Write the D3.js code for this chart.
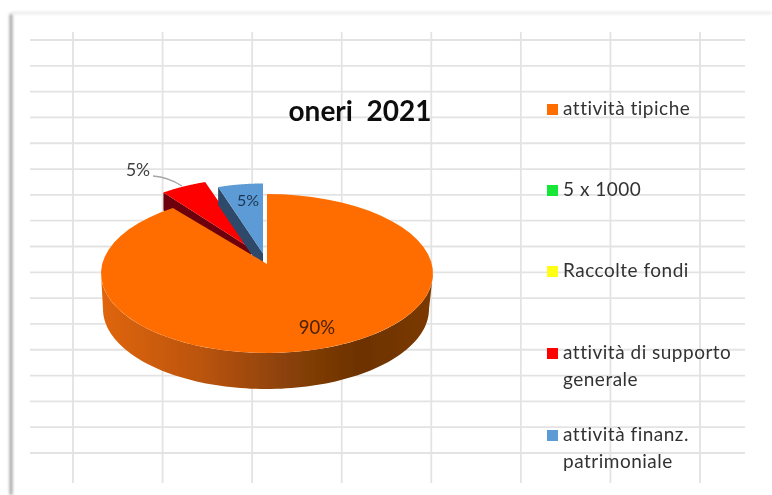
<!DOCTYPE html>
<html>
<head>
<meta charset="utf-8">
<script src="https://cdn.jsdelivr.net/npm/d3@7"></script>
<style>
	html, body { margin: 0; padding: 0; background: #fff; }
	text { font-family: Lato, "Open Sans", sans-serif; font-variant-ligatures: none; }
</style>
</head>
<body>
<div id="chart"></div>
<script>
var categories = ["attività tipiche", "5 x 1000", "Raccolte fondi", "attività di supporto generale", "attività finanz. patrimoniale"];
var values = [90.4, 0, 0, 4.8, 4.8];
var colors = ["#ff6d05", "#19e635", "#ffff19", "#ff0000", "#5b9bd5"];
var sideColors = [null, null, null, "#6e0508", "#2d4a6b"];
var legendLines = [["attività tipiche"], ["5 x 1000"], ["Raccolte fondi"], ["attività di supporto", "generale"], ["attività finanz.", "patrimoniale"]];
var pctLabels = ["90%", "", "", "5%", "5%"];
var title = "oneri  2021";

var width = 772, height = 495;

var svg = d3.select("#chart").append("svg")
	.attr("width", width)
	.attr("height", height)
	.style("display", "block");

// soft blur + gradient, the original is a photo of a spreadsheet
var defs = svg.append("defs");
defs.append("filter").attr("id", "soft")
	.append("feGaussianBlur").attr("stdDeviation", 0.6);
defs.append("filter").attr("id", "shadow")
	.attr("filterUnits", "userSpaceOnUse")
	.attr("x", 0).attr("y", 0).attr("width", width).attr("height", height)
	.append("feGaussianBlur").attr("stdDeviation", 1.4);

var wallGrad = defs.append("linearGradient").attr("id", "wall")
	.attr("x1", 0).attr("x2", 1).attr("y1", 0).attr("y2", 0);
[["0", "#e0650a"], ["0.3", "#bb5407"], ["0.55", "#8c4207"], ["0.78", "#6c3205"], ["1", "#7c3a05"]].forEach(function(s) {
	wallGrad.append("stop").attr("offset", s[0]).attr("stop-color", s[1]);
});

//
// page edge shadow
//
svg.append("line").attr("x1", 11).attr("x2", 11).attr("y1", 14).attr("y2", 495)
	.attr("stroke", "#8f8f8f").attr("stroke-width", 2.5).attr("filter", "url(#shadow)");
svg.append("line").attr("x1", 11).attr("x2", 772).attr("y1", 13).attr("y2", 13)
	.attr("stroke", "#ddd").attr("stroke-width", 1.5).attr("filter", "url(#shadow)");

var root = svg.append("g").attr("filter", "url(#soft)");

//
// spreadsheet grid
//
var rowScale = d3.scaleLinear().domain([0, 16]).range([40, 453]);
var colScale = d3.scaleLinear().domain([0, 7]).range([73, 700]);

root.selectAll("line.row").data(d3.range(17)).enter().append("line")
	.attr("class", "row")
	.attr("x1", 30).attr("x2", 745)
	.attr("y1", rowScale).attr("y2", rowScale)
	.attr("stroke", "#e3e3e3").attr("stroke-width", 1.8);

root.selectAll("line.col").data(d3.range(8)).enter().append("line")
	.attr("class", "col")
	.attr("x1", colScale).attr("x2", colScale)
	.attr("y1", 32).attr("y2", 483)
	.attr("stroke", "#e3e3e3").attr("stroke-width", 1.8);

//
// pie, flattened by hand because d3.arc has no tilt
//
var pie = d3.pie().sort(null).value(function(d) { return d; });
var arcs = pie(values);

var cx = 267, cy = 273.5, rx = 166, ry = 79.5, apexY = 264;
var line = d3.line();

function rim(a, o) {
	return [cx + o.dx + rx * o.s * Math.sin(a), cy + o.dy - ry * Math.cos(a)];
}

function rimPoints(d, o) {
	var n = 60, pts = [];
	for (var i = 0; i <= n; i++) {
		pts.push(rim(d.startAngle + (d.endAngle - d.startAngle) * i / n, o));
	}
	return pts;
}

function topFace(d, o) {
	return line([[cx + o.dx, apexY + o.dy]].concat(rimPoints(d, o))) + "Z";
}

// exploded slices sit further back, so they come out a bit narrower
var offsets = [
	{ dx: 0, dy: 0, s: 1 },
	{ dx: 0, dy: 0, s: 1 },
	{ dx: 0, dy: 0, s: 1 },
	{ dx: -16, dy: -15.5, s: 0.93 },
	{ dx: -4, dy: -10.5, s: 0.91 }
];
var slices = arcs.map(function(d, i) { return { arc: d, i: i, off: offsets[i] }; })
	.filter(function(s) { return s.arc.value > 0; });

// small slices first, the big one covers them
[slices[1], slices[2]].forEach(function(s) {
	var o = s.off, depth = 18;
	var a = rim(s.arc.startAngle, o);
	root.append("path")
		.attr("d", line([a, [a[0], a[1] + depth], [cx + o.dx, apexY + o.dy + depth], [cx + o.dx, apexY + o.dy]]) + "Z")
		.attr("fill", sideColors[s.i]);
	root.append("path")
		.attr("d", topFace(s.arc, o))
		.attr("fill", colors[s.i]);
});

// outer wall of the orange slice
var big = slices[0];
var wallTop = d3.range(0, 101).map(function(i) {
	var a = Math.PI / 2 + Math.PI * i / 100;
	return [cx + rx * Math.sin(a), cy - ry * Math.cos(a)];
});
var wallBottom = d3.range(100, -1, -1).map(function(i) {
	var a = Math.PI / 2 + Math.PI * i / 100;
	return [cx - 1 + 163 * Math.sin(a), 309 - 80 * Math.cos(a)];
});
root.append("path")
	.attr("d", line(wallTop.concat(wallBottom)) + "Z")
	.attr("fill", "url(#wall)");

root.append("path")
	.attr("d", topFace(big.arc, big.off))
	.attr("fill", colors[0]);

// leader for the red slice
root.append("path")
	.attr("d", "M153,176 Q168,177 182,186")
	.attr("fill", "none")
	.attr("stroke", "#a6a6a6")
	.attr("stroke-width", 1.3);

//
// labels
//
var labelPos = { 0: [317, 334, 18.5, "#4a2208"], 3: [138, 176, 17.5, "#404040"], 4: [248, 205.5, 16, "#1f3550"] };
Object.keys(labelPos).forEach(function(k) {
	var p = labelPos[k];
	root.append("text")
		.attr("x", p[0]).attr("y", p[1])
		.attr("text-anchor", "middle")
		.attr("font-size", p[2])
		.attr("fill", p[3])
		.text(pctLabels[k]);
});

root.append("text")
	.attr("x", 360).attr("y", 121)
	.attr("text-anchor", "middle")
	.attr("font-size", 28)
	.attr("font-weight", 700)
	.attr("fill", "#111")
	.style("white-space", "pre")
	.text(title);

//
// legend
//
var legendY = [109, 190, 271, 353, 435];
var legend = root.selectAll("g.legend").data(categories).enter().append("g")
	.attr("class", "legend")
	.attr("transform", function(d, i) { return "translate(547," + legendY[i] + ")"; });

legend.append("rect")
	.attr("x", 0).attr("y", -5)
	.attr("width", 11).attr("height", 11)
	.attr("fill", function(d, i) { return colors[i]; });

legend.each(function(d, i) {
	var g = d3.select(this);
	legendLines[i].forEach(function(t, j) {
		g.append("text")
			.attr("x", 16)
			.attr("y", 6 + j * 27)
			.attr("font-size", 19)
			.attr("letter-spacing", 0.5)
			.attr("fill", "#333")
			.text(t);
	});
});
</script>
</body>
</html>
